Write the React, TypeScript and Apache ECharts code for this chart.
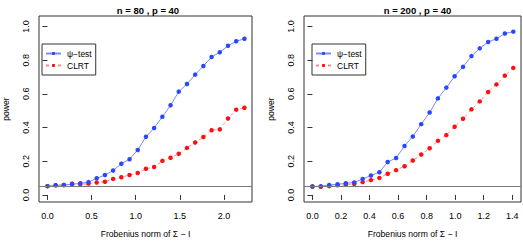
import React, { useEffect, useRef } from "react";
import * as echarts from "echarts";

const titles = ["n = 80 , p = 40", "n = 200 , p = 40"];
const seriesNames = ["ψ−test", "CLRT"];

const xLeft = [0, 0.093, 0.186, 0.279, 0.372, 0.465, 0.558, 0.651, 0.744, 0.837, 0.93, 1.023, 1.116, 1.209, 1.302, 1.395, 1.488, 1.581, 1.674, 1.767, 1.86, 1.953, 2.046, 2.139, 2.232];
const psiLeft = [0.052, 0.057, 0.059, 0.063, 0.069, 0.076, 0.099, 0.118, 0.145, 0.185, 0.212, 0.267, 0.345, 0.397, 0.464, 0.532, 0.613, 0.658, 0.714, 0.765, 0.819, 0.847, 0.885, 0.912, 0.927];
const clrtLeft = [0.052, 0.057, 0.059, 0.067, 0.063, 0.067, 0.074, 0.078, 0.095, 0.105, 0.118, 0.13, 0.155, 0.166, 0.202, 0.221, 0.244, 0.279, 0.311, 0.344, 0.384, 0.389, 0.454, 0.506, 0.517];

const xRight = [0, 0.059, 0.117, 0.176, 0.234, 0.293, 0.352, 0.41, 0.469, 0.527, 0.586, 0.645, 0.703, 0.762, 0.821, 0.879, 0.938, 0.996, 1.055, 1.114, 1.172, 1.231, 1.289, 1.348, 1.407];
const psiRight = [0.05, 0.052, 0.059, 0.063, 0.069, 0.074, 0.095, 0.115, 0.135, 0.195, 0.219, 0.29, 0.347, 0.42, 0.489, 0.573, 0.637, 0.704, 0.76, 0.824, 0.87, 0.908, 0.927, 0.958, 0.969];
const clrtRight = [0.05, 0.048, 0.052, 0.057, 0.061, 0.065, 0.076, 0.088, 0.101, 0.126, 0.147, 0.17, 0.204, 0.24, 0.277, 0.321, 0.355, 0.405, 0.452, 0.508, 0.555, 0.611, 0.656, 0.708, 0.754];

const xTicksLeft = [0, 0.5, 1.0, 1.5, 2.0];
const xTicksRight = [0, 0.2, 0.4, 0.6, 0.8, 1.0, 1.2, 1.4];
const yTicks = [0, 0.2, 0.4, 0.6, 0.8, 1.0];
const refLevel = 0.05;

const FONT = "Liberation Sans, Arial, Helvetica, sans-serif";
const BLUE_PT = "#2a46ff";
const BLUE_LN = "#7b8bff";
const RED_PT = "#ff1010";
const RED_LN = "#ff8a8a";

function pairs(xs: number[], ys: number[]) {
  return xs.map((x, i) => [x, ys[i]]);
}

export default function App() {
  const ref = useRef<HTMLDivElement>(null);
  useEffect(() => {
    if (!ref.current) return;
    const chart = echarts.init(ref.current, undefined, { renderer: "svg" });
    const grids = [
      { left: 34, top: 16, width: 218, height: 193 },
      { left: 304, top: 16, width: 217, height: 193 },
    ];
    const xRanges = [
      [-0.096, 2.318],
      [-0.059, 1.461],
    ];
    const xTickSets = [xTicksLeft, xTicksRight];
    const mkLine = {
      silent: true,
      symbol: "none",
      label: { show: false },
      lineStyle: { color: "#7a7a7a", width: 1, type: "solid" },
      data: [{ yAxis: refLevel }],
    };
    const option: any = {
      animation: false,
      textStyle: { fontFamily: FONT },
      title: titles.map((t, i) => ({
        text: t,
        left: grids[i].left + grids[i].width / 2,
        textAlign: "center",
        top: 0,
        textStyle: { fontSize: 9.5, fontWeight: "bold", color: "#000", fontFamily: FONT },
      })),
      legend: grids.map((g, i) => ({
        orient: "vertical",
        left: g.left + 8,
        top: 44,
        data: seriesNames,
        borderColor: "#333",
        borderWidth: 1,
        padding: [5, 4, 5, 3],
        itemGap: 3,
        itemWidth: 15,
        itemHeight: 4,
        selectedMode: false,
        textStyle: { fontSize: 8.5, color: "#000", fontFamily: FONT, padding: [0, 0, 0, 1] },
      })),
      grid: grids.map((g) => ({
        ...g,
        show: true,
        borderColor: "#333",
        borderWidth: 1,
        backgroundColor: "transparent",
      })),
      xAxis: grids.map((g, i) => ({
        type: "value",
        gridIndex: i,
        min: xRanges[i][0],
        max: xRanges[i][1],
        name: "Frobenius norm of Σ − I",
        nameLocation: "middle",
        nameGap: 27,
        nameTextStyle: { fontSize: 8.6, color: "#000", fontFamily: FONT },
        axisLine: { show: false },
        splitLine: { show: false },
        axisTick: { show: true, length: 5, lineStyle: { color: "#333" }, customValues: xTickSets[i] },
        axisLabel: {
          fontSize: 9,
          color: "#000",
          margin: 9,
          fontFamily: FONT,
          customValues: xTickSets[i],
          formatter: (v: number) => v.toFixed(1),
        },
      })),
      yAxis: grids.map((g, i) => ({
        type: "value",
        gridIndex: i,
        min: -0.042,
        max: 1.062,
        name: "power",
        nameLocation: "middle",
        nameGap: 29,
        nameRotate: 90,
        nameTextStyle: { fontSize: 8.6, color: "#000", fontFamily: FONT },
        axisLine: { show: false },
        splitLine: { show: false },
        axisTick: { show: true, length: 5, lineStyle: { color: "#333" }, customValues: yTicks },
        axisLabel: {
          fontSize: 9,
          color: "#000",
          rotate: 90,
          margin: 9,
          fontFamily: FONT,
          customValues: yTicks,
          formatter: (v: number) => v.toFixed(1),
        },
      })),
      series: [
        {
          name: seriesNames[0],
          type: "line",
          xAxisIndex: 0,
          yAxisIndex: 0,
          data: pairs(xLeft, psiLeft),
          symbol: "circle",
          symbolSize: 4.5,
          itemStyle: { color: BLUE_PT },
          lineStyle: { color: BLUE_LN, width: 1 },
          markLine: mkLine,
          z: 3,
        },
        {
          name: seriesNames[1],
          type: "line",
          xAxisIndex: 0,
          yAxisIndex: 0,
          data: pairs(xLeft, clrtLeft),
          symbol: "circle",
          symbolSize: 4.5,
          itemStyle: { color: RED_PT },
          lineStyle: { color: RED_LN, width: 1, type: [3, 3] },
          z: 2,
        },
        {
          name: seriesNames[0],
          type: "line",
          xAxisIndex: 1,
          yAxisIndex: 1,
          data: pairs(xRight, psiRight),
          symbol: "circle",
          symbolSize: 4.5,
          itemStyle: { color: BLUE_PT },
          lineStyle: { color: BLUE_LN, width: 1 },
          markLine: mkLine,
          z: 3,
        },
        {
          name: seriesNames[1],
          type: "line",
          xAxisIndex: 1,
          yAxisIndex: 1,
          data: pairs(xRight, clrtRight),
          symbol: "circle",
          symbolSize: 4.5,
          itemStyle: { color: RED_PT },
          lineStyle: { color: RED_LN, width: 1, type: [3, 3] },
          z: 2,
        },
      ],
    };
    chart.setOption(option);
    return () => chart.dispose();
  }, []);
  return (
    <div
      ref={ref}
      style={{ width: 523, height: 243, position: "absolute", left: 0, top: 0, background: "#fff" }}
    />
  );
}
